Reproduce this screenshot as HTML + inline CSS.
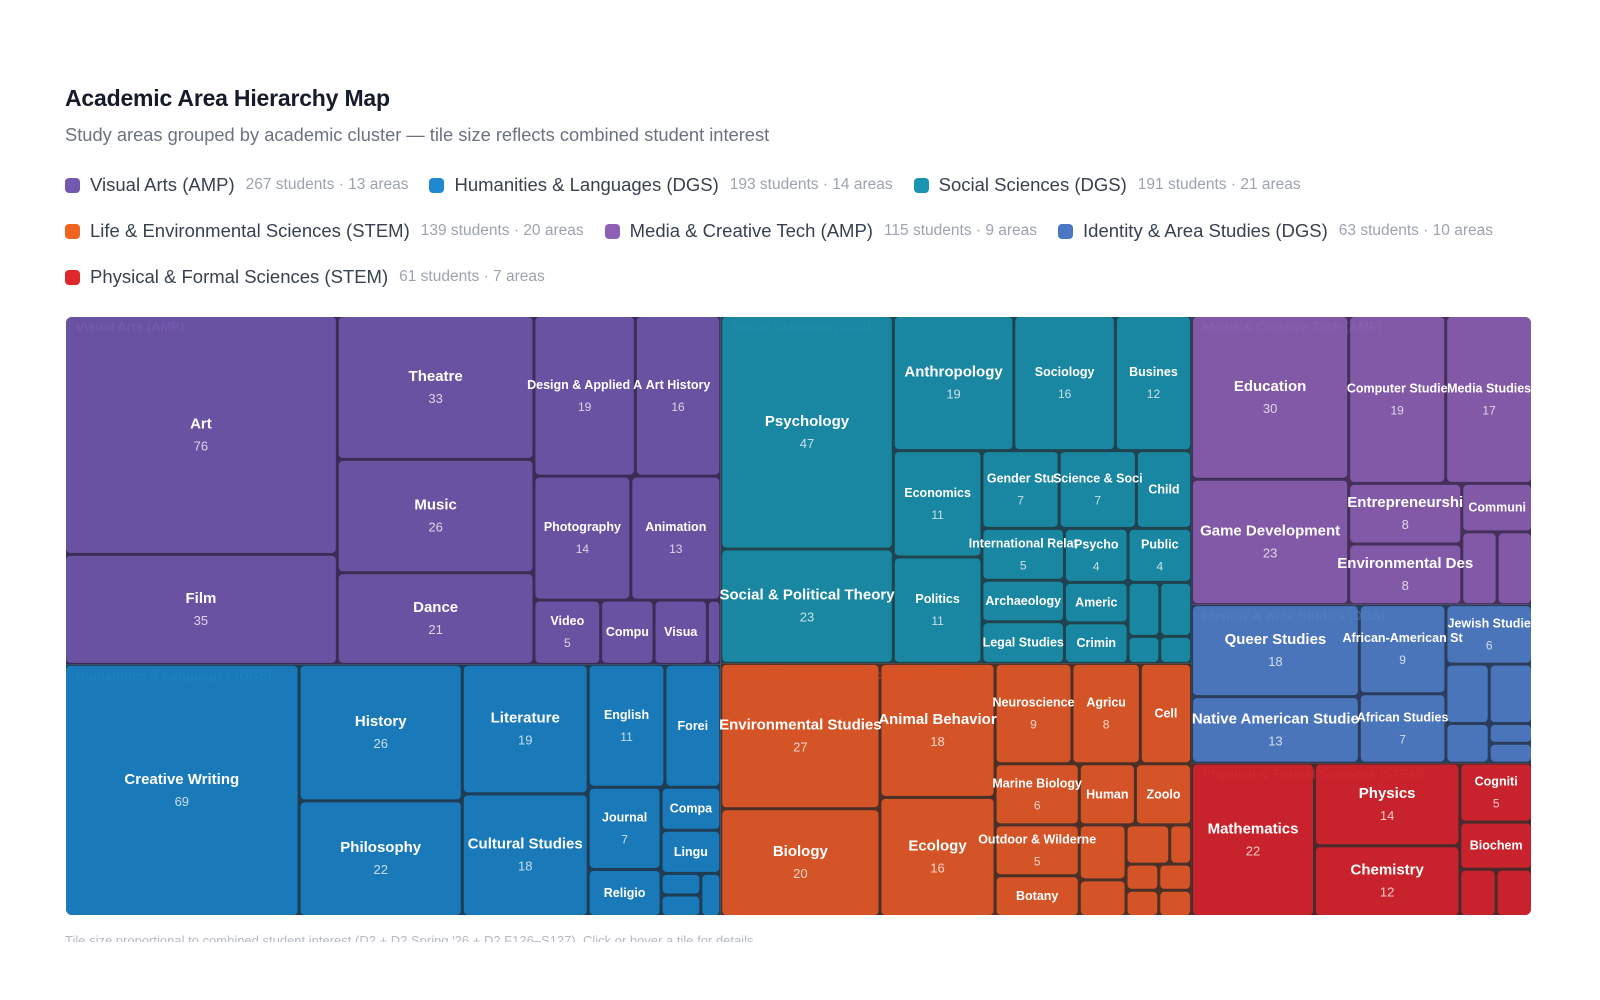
<!DOCTYPE html>
<html><head><meta charset="utf-8">
<style>
*{box-sizing:border-box;margin:0;padding:0}
body{width:1600px;height:1000px;background:#fff;font-family:"Liberation Sans",Arial,sans-serif;position:relative;overflow:hidden}
#title{position:absolute;left:65px;top:85px;font-size:23px;font-weight:700;color:#161b2b;letter-spacing:-0.2px}
#subtitle{position:absolute;left:65px;top:124px;font-size:18.3px;color:#6b7280}
.legend-row{position:absolute;left:65px;display:flex;align-items:center;white-space:nowrap}
.li{display:flex;align-items:center;margin-right:21px}
.sw{width:15px;height:15px;border-radius:4px;margin-right:10px}
.ln{font-size:18.5px;color:#374151;margin-right:11px}
.ls{font-size:15.5px;color:#9ca3af}
#chart{position:absolute;left:0;top:0}
#foot{position:absolute;left:65px;top:933px;font-size:13px;color:#b4b9c2;height:9px;overflow:hidden;white-space:nowrap}
</style></head><body>
<div id="title">Academic Area Hierarchy Map</div>
<div id="subtitle">Study areas grouped by academic cluster — tile size reflects combined student interest</div>
<div class="legend-row" style="top:174px">
 <div class="li"><span class="sw" style="background:#7357b0"></span><span class="ln">Visual Arts (AMP)</span><span class="ls">267 students · 13 areas</span></div>
 <div class="li"><span class="sw" style="background:#1f88d0"></span><span class="ln">Humanities &amp; Languages (DGS)</span><span class="ls">193 students · 14 areas</span></div>
 <div class="li"><span class="sw" style="background:#1a94b0"></span><span class="ln">Social Sciences (DGS)</span><span class="ls">191 students · 21 areas</span></div>
</div>
<div class="legend-row" style="top:220px">
 <div class="li"><span class="sw" style="background:#ef6420"></span><span class="ln">Life &amp; Environmental Sciences (STEM)</span><span class="ls">139 students · 20 areas</span></div>
 <div class="li"><span class="sw" style="background:#8f5fb5"></span><span class="ln">Media &amp; Creative Tech (AMP)</span><span class="ls">115 students · 9 areas</span></div>
 <div class="li"><span class="sw" style="background:#4a78c4"></span><span class="ln">Identity &amp; Area Studies (DGS)</span><span class="ls">63 students · 10 areas</span></div>
</div>
<div class="legend-row" style="top:266px">
 <div class="li"><span class="sw" style="background:#e0282c"></span><span class="ln">Physical &amp; Formal Sciences (STEM)</span><span class="ls">61 students · 7 areas</span></div>
</div>
<svg id="chart" width="1600" height="1000"></svg>
<div id="foot">Tile size proportional to combined student interest (D2 + D2 Spring '26 + D2 F126–S127). Click or hover a tile for details.</div>
<script>
const groupNames = ['Visual Arts (AMP)','Humanities & Languages (DGS)','Social Sciences (DGS)','Life & Environmental Sciences (STEM)','Media & Creative Tech (AMP)','Identity & Area Studies (DGS)','Physical & Formal Sciences (STEM)'];
const vaNames = ['Art','Film','Theatre','Music','Dance','Design & Applied A','Art History','Photography','Animation','Video','Compu','Visua',''];
const vaValues = [76,35,33,26,21,19,16,14,13,5,4,4,1];
const huNames = ['Creative Writing','History','Philosophy','Literature','Cultural Studies','English','Forei','Journal','Religio','Compa','Lingu','','',''];
const huValues = [69,26,22,19,18,11,8,7,4,3,3,1,1,1];
const soNames = ['Psychology','Social & Political Theory','Anthropology','Sociology','Busines','Economics','Politics','Gender Stu','Science & Soci','Child','International Relat','Archaeology','Legal Studies','Psycho','Public','Americ','Crimin','','','',''];
const soValues = [47,23,19,16,12,11,11,7,7,5,5,4,4,4,4,3,3,2,2,1,1];
const liNames = ['Environmental Studies','Biology','Animal Behavior','Ecology','Neuroscience','Agricu','Cell','Marine Biology','Outdoor & Wilderne','Botany','Human','Zoolo','','','','','','','',''];
const liValues = [27,20,18,16,9,8,6,6,5,4,4,4,3,2,2,1,1,1,1,1];
const meNames = ['Education','Game Development','Computer Studie','Media Studies','Entrepreneurshi','Environmental Des','Communi','',''];
const meValues = [30,23,19,17,8,8,4,3,3];
const idNames = ['Queer Studies','Native American Studie','African-American St','African Studies','Jewish Studie','','','','',''];
const idValues = [18,13,9,7,6,3,3,2,1,1];
const phNames = ['Mathematics','Physics','Chemistry','Cogniti','Biochem','',''];
const phValues = [22,14,12,5,4,2,2];

const groupLeafNames = [vaNames,huNames,soNames,liNames,meNames,idNames,phNames];
const groupLeafValues = [vaValues,huValues,soValues,liValues,meValues,idValues,phValues];
const tileColors = ['#6a52a3','#1a79b8','#1a87a2','#d55427','#8159a7','#4a75ba','#c8232c'];
const gapColors = ['#3a2d55','#1f3d55','#1f4450','#4a3026','#44305a','#2a3d5c','#4a2a2c'];
const labelColors = ['#7a5fb8','#1f86c8','#1a8fae','#e4521f','#8e63b8','#5580c8','#d82a2e'];

const X0=66,Y0=317,X1=1531,Y1=915,PAD=3,RATIO=1.3;

function dice(nodes,value,x0,y0,x1,y1){let k=value&&(x1-x0)/value;for(const n of nodes){n.y0=y0;n.y1=y1;n.x0=x0;n.x1=x0+=n.value*k;}}
function slice(nodes,value,x0,y0,x1,y1){let k=value&&(y1-y0)/value;for(const n of nodes){n.x0=x0;n.x1=x1;n.y0=y0;n.y1=y0+=n.value*k;}}
function squarify(nodes,value,x0,y0,x1,y1){
  let i0=0,i1=0,n=nodes.length;
  while(i0<n){
    let dx=x1-x0,dy=y1-y0,sum,minV,maxV;
    do sum=nodes[i1++].value; while(!sum&&i1<n);
    minV=maxV=sum;
    let alpha=Math.max(dy/dx,dx/dy)/(value*RATIO),beta=sum*sum*alpha,minR=Math.max(maxV/beta,beta/minV);
    for(;i1<n;++i1){
      let nv=nodes[i1].value;sum+=nv;
      if(nv<minV)minV=nv;if(nv>maxV)maxV=nv;
      beta=sum*sum*alpha;let nr=Math.max(maxV/beta,beta/minV);
      if(nr>minR){sum-=nv;break;}minR=nr;
    }
    const row=nodes.slice(i0,i1);
    if(dx<dy){dice(row,sum,x0,y0,x1,dy?y0+=dy*sum/value:y1);}
    else{slice(row,sum,x0,y0,dx?x0+=dx*sum/value:x1,y1);}
    value-=sum;i0=i1;
  }
}
const groups = groupNames.map((g,gi)=>{
  const kids = groupLeafNames[gi].map((nm,i)=>({name:nm,value:groupLeafValues[gi][i],idx:i}));
  kids.sort((a,b)=>b.value-a.value);
  return {name:g,gi:gi,children:kids,value:kids.reduce((s,k)=>s+k.value,0)};
});
groups.sort((a,b)=>b.value-a.value);
const total = groups.reduce((s,g)=>s+g.value,0);
const h=PAD/2;
squarify(groups,total,X0-h,Y0-h,X1+h,Y1+h);
for(const g of groups){
  g.x0+=h;g.y0+=h;g.x1-=h;g.y1-=h;
  squarify(g.children,g.value,g.x0-h,g.y0-h,g.x1+h,g.y1+h);
  for(const c of g.children){c.x0+=h;c.y0+=h;c.x1-=h;c.y1-=h;}
}
const svg=document.getElementById('chart');
const NS='http://www.w3.org/2000/svg';
function mk(tag,attrs){const e=document.createElementNS(NS,tag);for(const k in attrs)e.setAttribute(k,attrs[k]);return e;}
const clip=mk('clipPath',{id:'cc'});clip.appendChild(mk('rect',{x:X0,y:Y0,width:X1-X0,height:Y1-Y0,rx:6}));
const defs=mk('defs',{});defs.appendChild(clip);svg.appendChild(defs);
const bg=mk('g',{'clip-path':'url(#cc)'});svg.appendChild(bg);
const labelsG=mk('g',{});
for(const g of groups){
  const gr=mk('rect',{x:g.x0-h,y:g.y0-h,width:g.x1-g.x0+PAD,height:g.y1-g.y0+PAD,fill:gapColors[g.gi]});
  
  
  bg.appendChild(gr);
}
for(const g of groups){
  for(const c of g.children){
    const w=c.x1-c.x0,ht=c.y1-c.y0;
    const r=mk('rect',{x:c.x0,y:c.y0,width:Math.max(0,w),height:Math.max(0,ht),rx:4,fill:tileColors[g.gi]});
    
    
    bg.appendChild(r);
    if(!c.name)continue;
    const big=w>=100;
    const showNum=w>=56&&ht>=46;
    const cx=(c.x0+c.x1)/2,cy=(c.y0+c.y1)/2;
    const t=mk('text',{x:cx,y:showNum?cy-11:cy,'text-anchor':'middle','dominant-baseline':'central','font-size':big?15:12.5,'font-weight':700,fill:'#fff','font-family':'Liberation Sans, Arial, sans-serif'});
    t.textContent=c.name;
    
    
    labelsG.appendChild(t);
    if(showNum){
      const v=mk('text',{x:cx,y:cy+11,'text-anchor':'middle','dominant-baseline':'central','font-size':big?13:12,fill:'rgba(255,255,255,0.75)','font-family':'Liberation Sans, Arial, sans-serif'});
      v.textContent=c.value;
      
      
      labelsG.appendChild(v);
    }
  }
}
for(const g of groups){
  const t=mk('text',{x:g.x0+10,y:g.y0+14,'font-size':13,'font-weight':700,fill:labelColors[g.gi],'fill-opacity':0.5,'font-family':'Liberation Sans, Arial, sans-serif'});
  t.textContent=g.name;
  
  
  labelsG.appendChild(t);
}
svg.appendChild(labelsG);
</script>
</body></html>
